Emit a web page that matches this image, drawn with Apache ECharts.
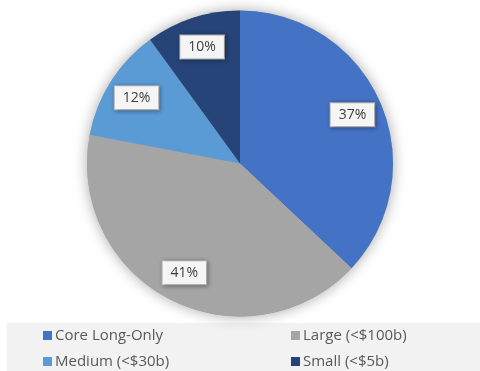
<!DOCTYPE html>
<html>
<head>
<meta charset="utf-8">
<script src="https://cdn.jsdelivr.net/npm/echarts@6/dist/echarts.min.js"></script>
<style>
html,body{margin:0;padding:0;background:#fff;}
#chart{width:480px;height:371px;}
</style>
</head>
<body>
<div id="chart"></div>
<script>
const categories = ['Core Long-Only', 'Large (<$100b)', 'Medium (<$30b)', 'Small (<$5b)'];
const shares = [37, 41, 12, 10];
const colors = ['#4472C4', '#A5A5A5', '#5B9BD5', '#264478'];
const legendLeftColumn = ['Core Long-Only', 'Medium (<$30b)'];
const legendRightColumn = ['Large (<$100b)', 'Small (<$5b)'];

const chart = echarts.init(document.getElementById('chart'), null, {renderer: 'canvas'});
const FONT = '"Open Sans", Lato, sans-serif';
const data = categories.map((n, i) => ({name: n, value: shares[i], itemStyle: {color: colors[i]}}));
const center = [240, 163.5];

const legendBase = {
  orient: 'vertical', top: 328, height: 120, padding: 0,
  itemWidth: 9, itemHeight: 9, itemGap: 11,
  icon: 'rect', selectedMode: false,
  textStyle: {fontFamily: FONT, fontSize: 15, color: '#595959', padding: [0, 0, 0, -2]}
};

chart.setOption({
  animation: false,
  backgroundColor: '#ffffff',
  graphic: [{
    type: 'rect', left: 7, top: 323, shape: {width: 473, height: 48},
    style: {fill: '#F2F2F2'}, silent: true, z: -10
  }],
  legend: [
    Object.assign({}, legendBase, {data: legendLeftColumn, left: 43}),
    Object.assign({}, legendBase, {data: legendRightColumn, left: 291})
  ],
  series: [
    {
      type: 'pie', silent: true, z: 0,
      center: center, radius: 153,
      data: [{value: 1, name: '_bg', itemStyle: {color: '#A5A5A5', shadowBlur: 14, shadowColor: 'rgba(0,0,0,0.35)'}}],
      label: {show: false}, labelLine: {show: false}, legendHoverLink: false
    },
    {
      type: 'pie', silent: true, z: 2,
      center: center, radius: 153,
      startAngle: 90, clockwise: true,
      data: data,
      label: {show: false}, labelLine: {show: false}
    },
    {
      type: 'pie', silent: true, z: 3,
      center: center, radius: [86, 153],
      startAngle: 90, clockwise: true,
      data: data.map(d => ({name: d.name, value: d.value, itemStyle: {color: 'rgba(0,0,0,0)'}})),
      legendHoverLink: false,
      label: {
        show: true, position: 'inside',
        formatter: p => p.value + '%',
        fontFamily: FONT, fontSize: 14, color: '#404040',
        backgroundColor: '#F5F5F5', borderColor: '#BFBFBF', borderWidth: 1,
        padding: [5, 8, 4, 8],
        shadowBlur: 4, shadowColor: 'rgba(0,0,0,0.35)', shadowOffsetX: 1, shadowOffsetY: 1
      },
      labelLine: {show: false}
    }
  ]
});
</script>
</body>
</html>
